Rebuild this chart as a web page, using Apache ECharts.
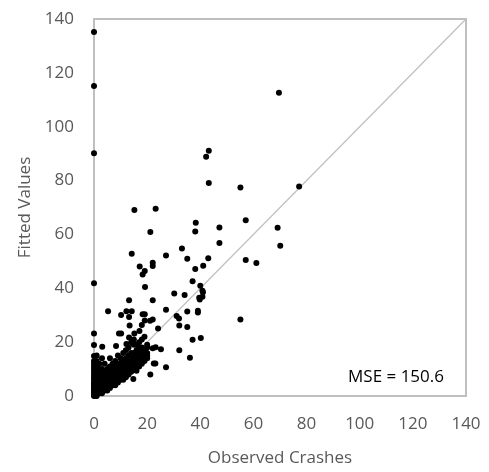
<!DOCTYPE html>
<html>
<head>
<meta charset="utf-8">
<script src="https://cdn.jsdelivr.net/npm/echarts@6/dist/echarts.min.js"></script>
<style>
  html, body { margin: 0; padding: 0; background: #fff; }
  #chart { width: 489px; height: 472px; }
</style>
</head>
<body>
<div id="chart"></div>
<script>
// observed crashes vs fitted values, [observed, fitted]
const outliers = [
  [0, 135.2], [0, 115.1], [0, 90.1], [69.6, 112.6], [43.2, 91.1], [42.2, 88.8],
  [43.2, 79.1], [55.1, 77.4], [77.2, 77.8], [57.1, 65.3], [69.1, 62.5], [70.1, 55.8],
  [57.1, 50.5], [61.1, 49.4], [55.1, 28.4]
]
const midPoints = [
  [15.2, 69.1], [23.2, 69.5], [21.2, 60.9], [38.3, 64.3], [38.1, 61.1], [47.2, 62.6],
  [47.2, 56.8], [33.1, 54.8], [14.2, 52.8], [27.1, 52.2], [35.1, 51.0], [43.0, 51.2],
  [17.2, 48.1], [22.1, 49.5], [22.1, 48.3], [38.1, 47.2], [41.1, 48.4], [19.1, 46.4],
  [18.3, 45.1], [0, 41.9], [37.1, 42.6], [40.0, 40.9], [40.8, 39.1], [41.0, 38.5],
  [39.6, 36.5], [40.8, 36.9], [19.2, 40.5], [30.2, 38.1], [34.1, 37.5], [13.2, 35.6],
  [22.1, 35.6], [39.8, 35.8], [5.3, 31.5], [10.2, 30.1], [12.2, 31.5], [14.2, 31.5],
  [13.2, 29.3], [27.1, 32.0], [35.1, 31.4], [39.1, 31.7], [39.1, 31.0], [18.3, 30.4],
  [19.1, 30.4], [31.1, 29.7], [32.0, 28.8], [22.1, 28.4], [21.1, 27.9], [19.1, 28.0],
  [18.0, 26.4], [13.4, 26.2], [24.1, 25.1], [32.1, 26.2], [35.1, 25.6], [0, 23.2],
  [9.4, 23.2], [10.2, 23.2], [15.2, 23.2], [13.2, 21.7], [17.1, 24.1], [37.1, 20.9],
  [40.2, 21.5], [0, 18.9], [3.1, 18.3], [8.3, 18.6], [12.2, 19.3], [22.1, 17.7],
  [23.2, 18.1], [25.2, 17.4], [32.1, 17.0], [36.1, 14.2], [22.5, 12.1], [23.1, 12.1],
  [27.1, 10.7], [21.2, 8.0], [0, 14.9], [16, 9.4], [14.8, 6.3]
]
// dense cluster near the origin: observed value -> fitted values
const clusterX = [0, 0.5, 1, 1.5, 2, 3, 4, 5, 6, 7, 8, 9, 10, 11, 12, 13, 14, 15, 16, 17, 18, 19, 20]
const clusterY = [
  [0, 0.5, 1, 1.5, 2, 2.5, 3, 3.5, 4, 4.5, 5, 6, 7, 8, 9, 10, 11, 12, 13],
  [0, 1, 2, 3, 4, 5, 6, 8, 10],
  [0, 1, 2, 3, 4, 5, 6, 7, 8, 9, 11, 13, 15],
  [1, 2, 3, 5, 7],
  [1, 2, 3, 4, 5, 6, 7, 9, 10, 12],
  [1, 2, 3, 4, 5, 6, 8, 10, 14],
  [2, 3, 4, 5, 6, 7, 9, 12],
  [2, 3, 4, 5, 7, 8, 10],
  [3, 4, 5, 6, 7, 9, 11, 14],
  [4, 5, 6, 7, 8, 10, 12],
  [4, 5, 6, 7, 8, 9, 11, 13],
  [5, 6, 7, 8, 9, 10, 12, 15],
  [6, 7, 8, 9, 10, 12, 14],
  [6, 8, 9, 10, 11, 13, 16],
  [7, 8, 10, 11, 12, 14, 17],
  [8, 9, 11, 12, 13, 15, 18],
  [9, 10, 12, 13, 15, 16, 20],
  [10, 11, 13, 14, 16, 19, 21],
  [11, 12, 14, 15, 17, 19],
  [11, 13, 15, 17, 18, 20],
  [12, 14, 16, 18, 21],
  [13, 15, 17, 16, 22],
  [14, 15, 16, 18, 19]
]
const axisTicks = [0, 20, 40, 60, 80, 100, 120, 140]
const mseText = 'MSE = 150.6'

const cluster = []
clusterX.forEach((x, i) => {
  clusterY[i].forEach(y => cluster.push([x, y]))
})
const allPoints = outliers.concat(midPoints, cluster)

const chart = echarts.init(document.getElementById('chart'))
const font = 'Open Sans'
const grey = '#595959'
const axisCommon = {
  type: 'value',
  min: axisTicks[0],
  max: axisTicks[axisTicks.length - 1],
  interval: 20,
  nameLocation: 'middle',
  nameTextStyle: { fontFamily: font, fontSize: 17, color: grey },
  axisLine: { show: false },
  axisTick: { show: false },
  splitLine: { show: false },
  axisLabel: { fontFamily: font, fontSize: 17, color: grey, margin: 20 }
}

chart.setOption({
  animation: false,
  grid: {
    left: 94,
    right: 23,
    top: 19,
    bottom: 75,
    show: true,
    borderColor: '#bfbfbf',
    borderWidth: 2
  },
  xAxis: Object.assign({}, axisCommon, { name: 'Observed Crashes', nameGap: 54 }),
  yAxis: Object.assign({}, axisCommon, { name: 'Fitted Values', nameGap: 60 }),
  series: [
    {
      type: 'line',
      data: [[0, 0], [140, 140]],
      symbol: 'none',
      silent: true,
      lineStyle: { color: '#bfbfbf', width: 1.2 },
      z: 1
    },
    {
      type: 'scatter',
      data: allPoints,
      symbolSize: 6,
      itemStyle: { color: '#000', opacity: 1 },
      z: 2
    }
  ],
  graphic: [
    {
      type: 'text',
      right: 45,
      top: 369,
      style: { text: mseText, fontFamily: font, fontSize: 17, fill: '#000' }
    }
  ]
})
</script>
</body>
</html>
